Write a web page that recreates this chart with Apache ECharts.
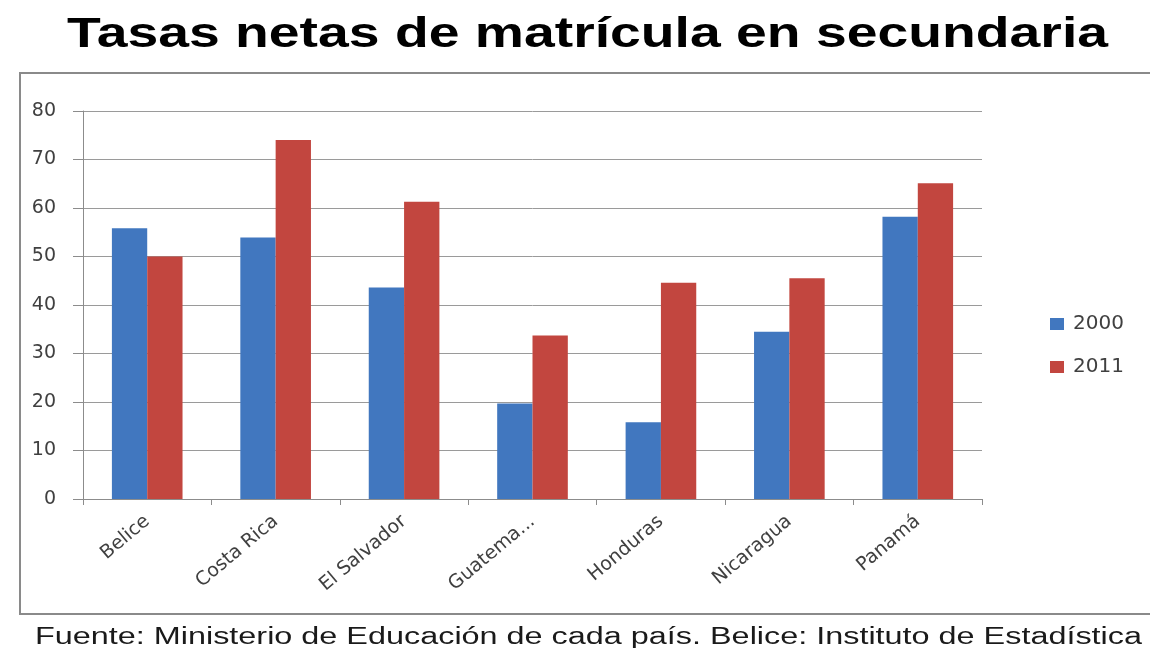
<!DOCTYPE html>
<html>
<head>
<meta charset="utf-8">
<script src="https://cdn.jsdelivr.net/npm/echarts@6/dist/echarts.min.js"></script>
<style>
html,body{margin:0;padding:0;background:#fff;}
#chart{width:1150px;height:648px;}
</style>
</head>
<body>
<div id="chart"></div>
<script>
const TITLE = 'Tasas netas de matrícula en secundaria';
const FOOTER = 'Fuente: Ministerio de Educación de cada país. Belice: Instituto de Estadística';
const categories = ['Belice', 'Costa Rica', 'El Salvador', 'Guatema...', 'Honduras', 'Nicaragua', 'Panamá'];
const seriesNames = ['2000', '2011'];
const values2000 = [55.8, 53.9, 43.6, 19.7, 15.8, 34.5, 58.2];
const values2011 = [50.0, 74.0, 61.3, 33.7, 44.6, 45.5, 65.1];
const yTicks = [0, 10, 20, 30, 40, 50, 60, 70, 80];

function measure(text, font) {
  const c = document.createElement('canvas').getContext('2d');
  c.font = font;
  return c.measureText(text).width;
}
const titleFont = 'bold 42px "Liberation Sans", Arial, sans-serif';
const footerFont = '23px "Liberation Sans", Arial, sans-serif';
const titleScale = 1041 / measure(TITLE, titleFont);
const footerScale = 1107 / measure(FOOTER, footerFont);

const chart = echarts.init(document.getElementById('chart'));
chart.setOption({
  animation: false,
  backgroundColor: '#ffffff',
  graphic: [
    {
      type: 'rect', z: -1,
      shape: { x: 20, y: 73, width: 1140, height: 541 },
      style: { fill: '#ffffff', stroke: '#8a8a8a', lineWidth: 2 }
    },
    {
      type: 'text', x: 67, y: 35, scaleX: titleScale,
      style: { x: 0, y: 0, text: TITLE, font: titleFont, fill: '#000000', textAlign: 'left', textVerticalAlign: 'middle' }
    },
    {
      type: 'text', x: 35, y: 638, scaleX: footerScale,
      style: { x: 0, y: 0, text: FOOTER, font: footerFont, fill: '#1a1a1a', textAlign: 'left', textVerticalAlign: 'middle' }
    }
  ],
  legend: {
    orient: 'vertical',
    left: 1045,
    top: 309,
    itemWidth: 14,
    itemHeight: 12,
    itemGap: 23,
    icon: 'rect',
    data: seriesNames,
    textStyle: { fontFamily: 'DejaVu Sans', fontSize: 20, color: '#404040', padding: [0, 0, 0, 4] }
  },
  grid: { left: 83, right: 168, top: 111, bottom: 149, containLabel: false },
  xAxis: {
    type: 'category',
    data: categories,
    axisLine: { lineStyle: { color: '#8c8c8c', width: 1 } },
    axisTick: { show: true, length: 6, lineStyle: { color: '#8c8c8c' } },
    axisLabel: { rotate: 40, margin: 20, fontFamily: 'DejaVu Sans', fontSize: 19, color: '#404040', interval: 0 }
  },
  yAxis: {
    type: 'value',
    min: yTicks[0],
    max: yTicks[yTicks.length - 1],
    interval: 10,
    axisLine: { show: true, lineStyle: { color: '#8c8c8c', width: 1 } },
    axisTick: { show: true, length: 10, lineStyle: { color: '#8c8c8c' } },
    axisLabel: { margin: 27, fontFamily: 'DejaVu Sans', fontSize: 19, color: '#404040' },
    splitLine: { lineStyle: { color: '#9a9a9a', width: 1 } }
  },
  series: [
    { name: seriesNames[0], type: 'bar', data: values2000, barGap: '0%', barCategoryGap: '45%', itemStyle: { color: '#4177BF' } },
    { name: seriesNames[1], type: 'bar', data: values2011, barGap: '0%', barCategoryGap: '45%', itemStyle: { color: '#C2463F' } }
  ]
});
</script>
</body>
</html>
